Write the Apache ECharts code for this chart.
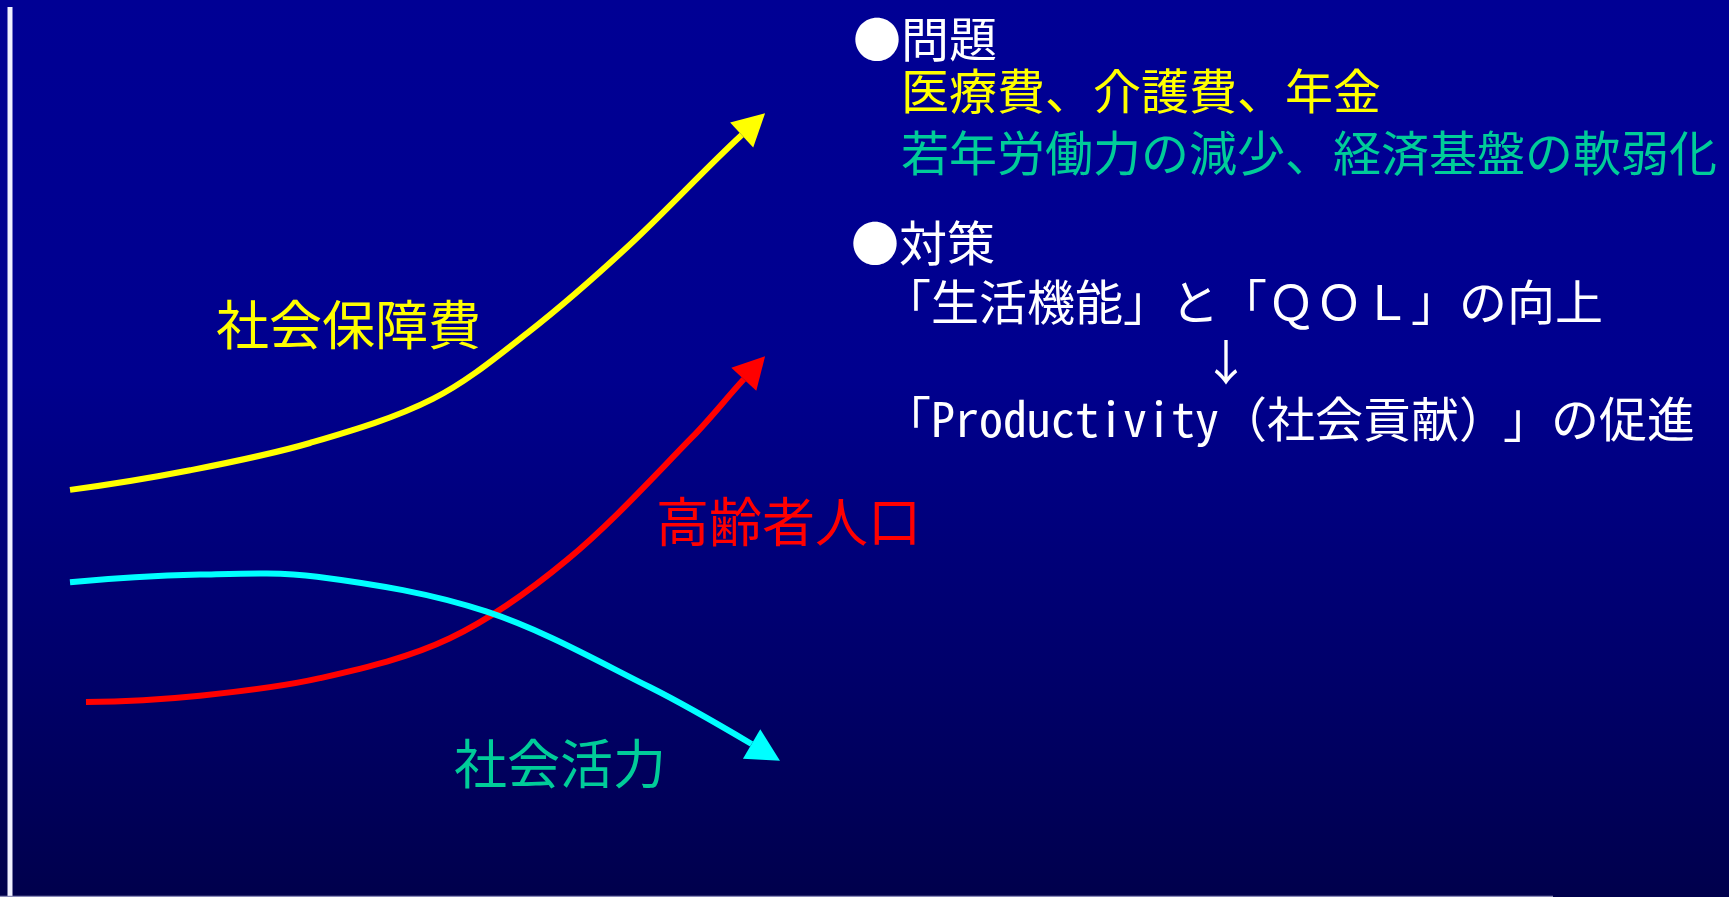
<!DOCTYPE html>
<html>
<head>
<meta charset="utf-8">
<script src="https://cdn.jsdelivr.net/npm/echarts@6/dist/echarts.min.js"></script>
<style>
  html, body { margin: 0; padding: 0; background: #000090; }
  #chart { width: 1729px; height: 897px; }
</style>
</head>
<body>
<div id="chart"></div>
<script>
// Trend curves on a 0-100 time / 0-100 level scale
const socialSecurityCost = [[0, 44.3], [16.9, 47.1], [33.8, 51.0], [51.1, 57.3], [64.4, 66.7], [78.5, 79.0], [94.6, 95.0]];
const elderlyPopulation = [[2.25, 14.0], [18.3, 14.9], [35.2, 17.4], [53.5, 23.1], [70.0, 34.3], [87.7, 51.9], [94.9, 60.1]];
const socialVitality = [[0, 31.1], [18.3, 32.2], [34.8, 31.9], [58.7, 26.9], [81.7, 16.1], [96.0, 8.0]];

// Arrowheads: [baseX, baseY, tipX, tipY]
const arrowHeads = [
  [94.6, 95.0, 97.9, 98.1],
  [94.9, 60.1, 97.9, 63.4],
  [96.0, 8.0, 100, 5.6]
];

const curveNames = ['社会保障費', '高齢者人口', '社会活力'];

const problemTitle = '●問題';
const problemCosts = '医療費、介護費、年金';
const problemEconomy = '若年労働力の減少、経済基盤の軟弱化';
const measureTitle = '●対策';
const measureLine1 = '「生活機能」と「ＱＯＬ」の向上';
const measureArrow = '↓';
const measureLine2a = '「Productivity（社会貢献）';
const measureLine2b = '」の促進';

const YELLOW = '#ffff00';
const RED = '#ff0000';
const CYAN = '#00ffff';
const TEAL = '#00cc99';
const WHITE = '#ffffff';

const FONT = '"Noto Sans Mono CJK JP", "Noto Sans CJK JP", sans-serif';
const bodyFont = '48px ' + FONT;
const labelFont = '53px ' + FONT;

const arrowColors = [YELLOW, RED, CYAN];

function textEl(text, x, y, fill, font, align) {
  return {
    type: 'text', x: x, y: y, z: 10,
    style: { text: text, fill: fill, font: font, textAlign: align || 'left', textVerticalAlign: 'middle' }
  };
}

function unit(v) {
  const l = Math.sqrt(v[0] * v[0] + v[1] * v[1]) || 1;
  return [v[0] / l, v[1] / l];
}

// Smooth curve through every data point; the end tangent follows its arrowhead.
function curve(name, data, color, arrowIndex) {
  return {
    type: 'custom', name: name, data: data, clip: false,
    renderItem: function (params, api) {
      if (params.dataIndexInside !== 0) return null;
      const n = params.dataInsideLength;
      const P = [];
      for (let i = 0; i < n; i++) P.push(api.coord([api.value(0, i), api.value(1, i)]));
      const a = arrowHeads[arrowIndex];
      const ab = api.coord([a[0], a[1]]), at = api.coord([a[2], a[3]]);
      const T = [];
      for (let i = 1; i < n - 1; i++) T[i] = unit([P[i + 1][0] - P[i - 1][0], P[i + 1][1] - P[i - 1][1]]);
      T[n - 1] = unit([at[0] - ab[0], at[1] - ab[1]]);
      const u = unit([P[1][0] - P[0][0], P[1][1] - P[0][1]]);
      const d1 = u[0] * T[1][0] + u[1] * T[1][1];
      T[0] = unit([2 * d1 * u[0] - T[1][0], 2 * d1 * u[1] - T[1][1]]);
      let d = 'M' + P[0][0] + ' ' + P[0][1];
      for (let i = 0; i < n - 1; i++) {
        const len = Math.sqrt(Math.pow(P[i + 1][0] - P[i][0], 2) + Math.pow(P[i + 1][1] - P[i][1], 2)) / 3;
        d += ' C' + (P[i][0] + T[i][0] * len) + ' ' + (P[i][1] + T[i][1] * len) + ' ' +
          (P[i + 1][0] - T[i + 1][0] * len) + ' ' + (P[i + 1][1] - T[i + 1][1] * len) + ' ' +
          P[i + 1][0] + ' ' + P[i + 1][1];
      }
      return {
        type: 'path',
        shape: { pathData: d },
        style: { stroke: color, lineWidth: 6, fill: null, lineCap: 'butt', lineJoin: 'round' }
      };
    }
  };
}

const chart = echarts.init(document.getElementById('chart'), null, { renderer: 'canvas' });

chart.setOption({
  animation: false,
  backgroundColor: {
    type: 'linear', x: 0, y: 0, x2: 0, y2: 1,
    colorStops: [
      { offset: 0, color: '#000094' },
      { offset: 0.42, color: '#00008e' },
      { offset: 0.75, color: '#00006a' },
      { offset: 1, color: '#00004c' }
    ]
  },
  grid: { left: 70, right: 949, top: 100, bottom: 97 },
  xAxis: { type: 'value', min: 0, max: 100, show: false },
  yAxis: { type: 'value', min: 0, max: 100, show: false },
  series: [
    curve(curveNames[0], socialSecurityCost, YELLOW, 0),
    curve(curveNames[1], elderlyPopulation, RED, 1),
    curve(curveNames[2], socialVitality, CYAN, 2),
    {
      type: 'custom',
      data: arrowHeads,
      clip: false,
      renderItem: function (params, api) {
        const b = api.coord([api.value(0), api.value(1)]);
        const t = api.coord([api.value(2), api.value(3)]);
        const dir = unit([t[0] - b[0], t[1] - b[1]]);
        const nx = -dir[1], ny = dir[0];
        const hw = 17;
        return {
          type: 'polygon',
          shape: { points: [t, [b[0] + nx * hw, b[1] + ny * hw], [b[0] - nx * hw, b[1] - ny * hw]] },
          style: { fill: arrowColors[params.dataIndex] }
        };
      }
    }
  ],
  graphic: [
    // frame edges
    { type: 'line', z: 5, shape: { x1: 10, y1: 7, x2: 10, y2: 897 }, style: { stroke: '#f0f0ff', lineWidth: 5 } },
    { type: 'line', z: 5, shape: { x1: 0, y1: 896.5, x2: 1553, y2: 896.5 }, style: { stroke: '#8a8ab8', lineWidth: 1.5 } },
    // curve labels
    textEl(curveNames[0], 216, 325, YELLOW, labelFont),
    textEl(curveNames[1], 656, 522, RED, labelFont),
    textEl(curveNames[2], 454, 764, TEAL, labelFont),
    // right-hand notes
    textEl(problemTitle, 853, 38.5, WHITE, bodyFont),
    textEl(problemCosts, 901, 91, YELLOW, bodyFont),
    textEl(problemEconomy, 901, 152.5, TEAL, bodyFont),
    textEl(measureTitle, 851, 243, WHITE, bodyFont),
    textEl(measureLine1, 883, 302, WHITE, bodyFont),
    textEl(measureArrow, 1226, 362, WHITE, bodyFont, 'center'),
    textEl(measureLine2a, 883, 419, WHITE, bodyFont),
    textEl(measureLine2b, 1503, 419, WHITE, bodyFont)
  ]
});
</script>
</body>
</html>
